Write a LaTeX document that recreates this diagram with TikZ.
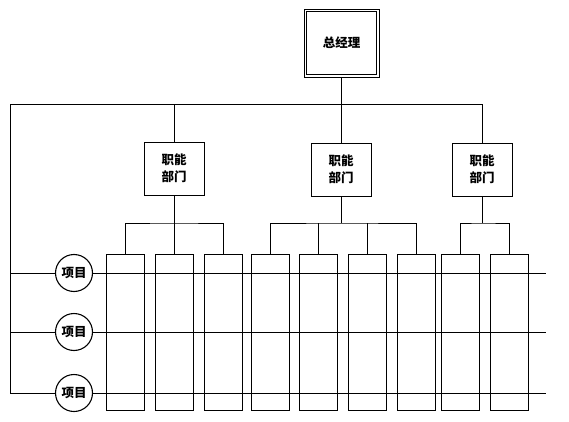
\documentclass[tikz,border=0pt]{standalone}
\usepackage{fontspec}
\newfontfamily\cjk{Noto Sans CJK SC}
\tikzset{
  x=1pt, y=-1pt,
  every path/.style={line width=0.9pt},
  gmbox/.style={draw, line width=0.9pt, minimum width=75pt, minimum height=68pt, font=\cjk\bfseries\fontsize{12.5}{15}\selectfont, inner sep=0pt},
  fdbox/.style={draw, line width=0.9pt, minimum width=60pt, minimum height=53pt, align=center, font=\cjk\bfseries\fontsize{12.5}{17}\selectfont, inner sep=0pt},
  colbox/.style={draw, line width=0.9pt, minimum width=38pt, minimum height=156pt, inner sep=0pt},
  itemc/.style={draw, circle, fill=white, line width=1.1pt, minimum size=37pt, inner sep=0pt, font=\cjk\bfseries\fontsize{12.5}{15}\selectfont},
}
\begin{document}
\begin{tikzpicture}
\useasboundingbox (0,0) rectangle (569,422);
% top
\node[gmbox] (gm) at (341.5,43) {总经理};
\draw ([shift={(3,-3)}]gm.south west) rectangle ([shift={(-3,3)}]gm.north east);
\node[fdbox] (fd1) at (174,168.5) {职能\\部门};
\node[fdbox] (fd2) at (341,169.5) {职能\\部门};
\node[fdbox] (fd3) at (482,169.5) {职能\\部门};
% columns
\foreach \n/\x in {1/125,2/174,3/223,4/270,5/318,6/367,7/416.5,8/460,9/509}
  \node[colbox] (c\n) at (\x,332) {};
% coordinates
\coordinate (tl) at (10,104);
\coordinate (tr) at (482,104);
\coordinate (l1) at (10,273);
\coordinate (l2) at (10,332);
\coordinate (l3) at (10,393);
\coordinate (e1) at (546,273);
\coordinate (e2) at (546,332);
\coordinate (e3) at (546,393);
\coordinate (b1) at (174,223);
\coordinate (b2) at (341,223);
\coordinate (b3) at (482,223);
% top connectors
\draw (gm.south) -- (gm.south |- tl);
\draw (l3) -- (tl) -- (tr) -- (fd3.north);
\draw (fd1.north) -- (fd1.north |- tl);
\draw (fd2.north) -- (fd2.north |- tl);
% brackets
\draw (fd1.south) -- (c2.north);
\draw (c1.north) |- (b1) -| (c3.north);
\draw (fd2.south) -- (b2);
\draw (c4.north) |- (b2) -| (c7.north);
\draw (c5.north) -- (c5.north |- b2);
\draw (c6.north) -- (c6.north |- b2);
\draw (fd3.south) -- (b3);
\draw (c8.north) |- (b3) -| (c9.north);
% items
\node[itemc] (i1) at (74,273) {项目};
\node[itemc] (i2) at (74,332) {项目};
\node[itemc] (i3) at (74,393) {项目};
\foreach \k in {1,2,3}{
  \draw (l\k) -- (i\k);
  \draw (i\k) -- (e\k);
}
\end{tikzpicture}
\end{document}
